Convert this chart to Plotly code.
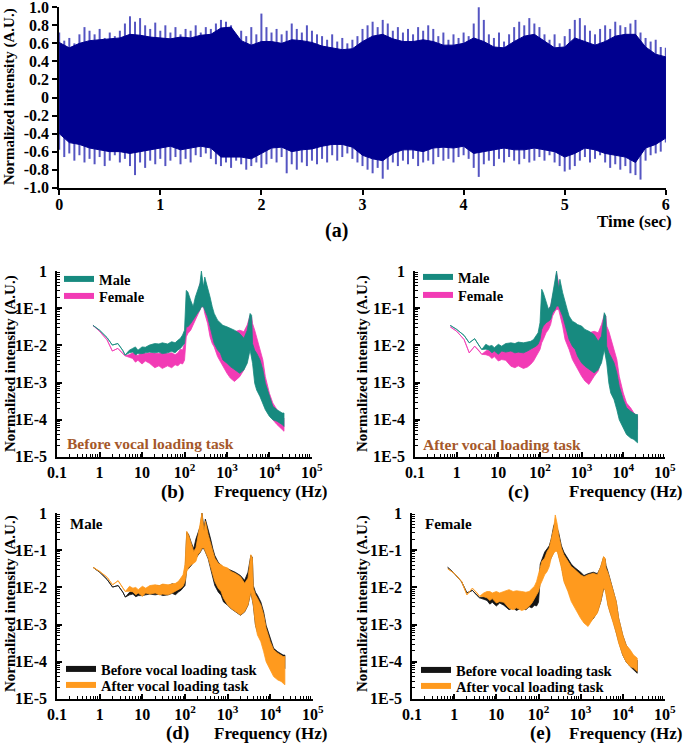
import numpy as np
import plotly.graph_objects as go

W, H = 685, 745
FONT = "Liberation Serif"

# ---------------- (a) time-domain waveform ----------------
t_peak = [round(0.05 * i, 2) for i in range(121)]
peak_hi = [0.72, 0.63, 0.66, 0.60, 0.70, 0.78, 0.74, 0.70, 0.76, 0.66,
           0.72, 0.68, 0.74, 0.82, 0.90, 0.84, 0.88, 0.80, 0.76, 0.83,
           0.74, 0.80, 0.72, 0.78, 0.70, 0.76, 0.74, 0.80, 0.72, 0.78,
           0.76, 0.82, 0.86, 0.84, 0.80, 0.66, 0.74, 0.68, 0.78, 0.70,
           0.93, 0.78, 0.72, 0.76, 0.70, 0.74, 0.82, 0.76, 0.72, 0.80,
           0.74, 0.70, 0.68, 0.64, 0.70, 0.62, 0.66, 0.60, 0.64, 0.68,
           0.76, 0.80, 0.84, 0.78, 0.86, 0.82, 0.74, 0.78, 0.72, 0.76,
           0.70, 0.78, 0.74, 0.80, 0.76, 0.68, 0.72, 0.64, 0.70, 0.66,
           0.72, 0.68, 0.82, 1.00, 0.86, 0.70, 0.66, 0.72, 0.62, 0.70,
           0.78, 0.84, 0.80, 0.88, 0.82, 0.78, 0.70, 0.64, 0.70, 0.60,
           0.68, 0.76, 0.86, 0.88, 0.80, 0.74, 0.70, 0.76, 0.80, 0.76,
           0.84, 0.80, 0.78, 0.82, 0.86, 0.72, 0.66, 0.62, 0.64, 0.56,
           0.55]
peak_lo = [-0.58, -0.66, -0.62, -0.70, -0.64, -0.72, -0.68, -0.74, -0.66, -0.76,
           -0.70, -0.64, -0.72, -0.68, -0.76, -0.86, -0.72, -0.78, -0.70, -0.74,
           -0.68, -0.76, -0.70, -0.66, -0.74, -0.68, -0.72, -0.64, -0.66, -0.62,
           -0.68, -0.74, -0.76, -0.72, -0.78, -0.70, -0.74, -0.80, -0.76, -0.72,
           -0.78, -0.74, -0.68, -0.72, -0.66, -0.84, -0.74, -0.80, -0.72, -0.76,
           -0.70, -0.74, -0.68, -0.72, -0.64, -0.70, -0.66, -0.62, -0.68, -0.72,
           -0.76, -0.80, -0.84, -0.78, -0.90, -0.80, -0.72, -0.76, -0.70, -0.74,
           -0.68, -0.76, -0.72, -0.70, -0.74, -0.66, -0.70, -0.68, -0.72, -0.66,
           -0.64, -0.68, -0.78, -0.88, -0.74, -0.70, -0.76, -0.68, -0.72, -0.66,
           -0.70, -0.74, -0.68, -0.72, -0.70, -0.66, -0.70, -0.64, -0.72, -0.76,
           -0.82, -0.80, -0.76, -0.70, -0.66, -0.72, -0.68, -0.64, -0.72, -0.78,
           -0.74, -0.80, -0.76, -0.84, -0.86, -0.91, -0.70, -0.64, -0.62, -0.60,
           -0.50]
t_body = [round(0.1 * i, 1) for i in range(61)]
body_hi = [0.61, 0.55, 0.60, 0.63, 0.64, 0.65, 0.66, 0.70, 0.69, 0.67,
           0.66, 0.65, 0.67, 0.66, 0.69, 0.70, 0.77, 0.78, 0.63, 0.58,
           0.62, 0.62, 0.60, 0.64, 0.63, 0.61, 0.57, 0.55, 0.53, 0.54,
           0.62, 0.68, 0.70, 0.65, 0.62, 0.62, 0.64, 0.62, 0.58, 0.58,
           0.60, 0.66, 0.62, 0.56, 0.55, 0.62, 0.68, 0.70, 0.62, 0.55,
           0.56, 0.66, 0.62, 0.58, 0.62, 0.68, 0.70, 0.70, 0.56, 0.48,
           0.45]
body_lo = [-0.40, -0.50, -0.52, -0.56, -0.58, -0.60, -0.60, -0.62, -0.60, -0.58,
           -0.56, -0.54, -0.58, -0.56, -0.54, -0.56, -0.66, -0.66, -0.66, -0.68,
           -0.62, -0.56, -0.55, -0.60, -0.58, -0.57, -0.54, -0.52, -0.52, -0.55,
           -0.64, -0.68, -0.70, -0.62, -0.58, -0.58, -0.60, -0.56, -0.55, -0.56,
           -0.54, -0.62, -0.60, -0.58, -0.56, -0.58, -0.58, -0.56, -0.58, -0.60,
           -0.66, -0.62, -0.56, -0.58, -0.62, -0.64, -0.66, -0.72, -0.56, -0.52,
           -0.45]
a_yticks = [1.0, 0.8, 0.6, 0.4, 0.2, 0, -0.2, -0.4, -0.6, -0.8, -1.0]
a_yticklabels = ["1.0", "0.8", "0.6", "0.4", "0.2", "0", "-0.2", "-0.4", "-0.6", "-0.8", "-1.0"]
a_xticks = [0, 1, 2, 3, 4, 5, 6]

# ---------------- (b)-(e) spectra: upper / lower envelopes, log10(intensity) ----------------
freq = [0.7, 1, 1.5, 2, 2.7, 3.5, 4, 5, 6, 7,
        8, 10, 12, 15, 20, 25, 30, 40, 50, 60,
        70, 80, 90, 100, 110, 120, 140, 160, 180, 200,
        230, 250, 280, 300, 350, 400, 450, 500, 600, 700,
        800, 1000, 1200, 1500, 2000, 2500, 3000, 3500, 3800, 4000,
        4500, 5000, 6000, 7000, 8000, 10000, 12000, 15000, 18000, 20000,
        22000]

male_before_hi = [-1.46, -1.59, -1.79, -1.99, -1.95, -2.13, -2.26, -2.13, -2.08, -2.04,
                  -2.13, -2.04, -2.05, -1.99, -1.95, -1.96, -1.93, -1.96, -1.90, -1.93,
                  -1.86, -1.81, -1.72, -1.59, -0.52, -0.56, -0.79, -0.96, -0.70, -0.52,
                  -0.34, 0.0, -0.43, -0.16, -0.43, -0.70, -0.96, -1.14, -1.32, -1.41,
                  -1.46, -1.50, -1.54, -1.59, -1.68, -1.81, -1.59, -1.14, -1.19, -1.95,
                  -2.13, -2.21, -2.39, -2.66, -3.02, -3.38, -3.64, -3.73, -3.78, -3.82,
                  -3.82]
male_before_lo = [-1.46, -1.59, -1.79, -1.99, -1.95, -2.13, -2.26, -2.20, -2.18, -2.25,
                  -2.22, -2.22, -2.20, -2.18, -2.20, -2.18, -2.22, -2.20, -2.16, -2.20,
                  -2.12, -2.08, -2.02, -1.95, -1.50, -1.50, -1.41, -1.32, -1.23, -1.14,
                  -1.05, -0.96, -0.96, -1.05, -1.23, -1.50, -1.77, -1.95, -2.12, -2.21,
                  -2.39, -2.48, -2.57, -2.66, -2.75, -2.66, -2.48, -2.12, -2.30, -2.48,
                  -3.02, -3.20, -3.38, -3.55, -3.73, -3.91, -4.00, -4.04, -4.09, -4.13,
                  -4.18]
female_before_hi = [-1.46, -1.62, -1.85, -2.15, -2.08, -2.20, -2.28, -2.25, -2.20, -2.22,
                    -2.28, -2.15, -2.22, -2.20, -2.20, -2.22, -2.18, -2.22, -2.20, -2.25,
                    -2.20, -2.10, -2.12, -1.95, -1.37, -1.23, -1.05, -0.96, -0.88, -0.70,
                    -0.34, -0.25, -0.43, -0.52, -0.88, -1.05, -1.14, -1.23, -1.37, -1.45,
                    -1.50, -1.59, -1.68, -1.63, -1.59, -1.63, -1.45, -1.19, -1.23, -1.41,
                    -1.59, -1.77, -2.12, -2.39, -2.84, -3.29, -3.55, -3.73, -3.87, -3.91,
                    -3.96]
female_before_lo = [-1.46, -1.62, -1.85, -2.15, -2.08, -2.22, -2.28, -2.32, -2.35, -2.45,
                    -2.40, -2.50, -2.42, -2.48, -2.60, -2.55, -2.62, -2.55, -2.60, -2.52,
                    -2.55, -2.48, -2.50, -2.40, -1.77, -1.68, -1.59, -1.45, -1.32, -1.23,
                    -1.05, -0.96, -0.96, -1.14, -1.41, -1.77, -1.95, -2.04, -2.30, -2.45,
                    -2.57, -2.75, -2.88, -2.97, -2.84, -2.66, -2.39, -2.04, -2.04, -2.12,
                    -2.48, -2.66, -2.93, -3.20, -3.46, -3.82, -4.00, -4.13, -4.22, -4.27,
                    -4.31]
male_after_hi = [-1.46, -1.57, -1.73, -1.93, -1.82, -2.02, -2.11, -1.97, -2.02, -2.00,
                 -2.06, -1.97, -2.02, -1.95, -1.93, -1.95, -1.91, -1.93, -1.91, -1.89,
                 -1.84, -1.75, -1.66, -1.39, -0.49, -0.58, -0.85, -1.03, -0.94, -0.67,
                 -0.31, 0.0, -0.49, -0.22, -0.58, -0.85, -1.03, -1.21, -1.35, -1.39,
                 -1.44, -1.48, -1.57, -1.62, -1.71, -1.89, -1.75, -1.12, -1.21, -2.02,
                 -2.20, -2.29, -2.47, -2.74, -3.10, -3.46, -3.68, -3.77, -3.82, -3.86,
                 -3.86]
male_after_lo = [-1.46, -1.57, -1.73, -1.93, -1.82, -2.02, -2.11, -2.10, -2.12, -2.20,
                 -2.15, -2.24, -2.15, -2.18, -2.15, -2.20, -2.18, -2.20, -2.15, -2.11,
                 -2.06, -2.02, -1.97, -1.84, -1.57, -1.48, -1.39, -1.35, -1.30, -1.12,
                 -1.03, -0.94, -0.94, -1.03, -1.21, -1.48, -1.66, -1.84, -2.02, -2.11,
                 -2.29, -2.47, -2.56, -2.65, -2.74, -2.65, -2.47, -2.11, -2.29, -2.47,
                 -3.01, -3.28, -3.46, -3.73, -4.00, -4.22, -4.40, -4.49, -4.53, -4.58,
                 -4.62]
female_after_hi = [-1.50, -1.62, -1.84, -2.20, -2.02, -2.15, -2.24, -2.15, -2.11, -2.11,
                   -2.15, -2.11, -2.15, -2.11, -2.06, -2.11, -2.09, -2.11, -2.13, -2.11,
                   -2.02, -1.97, -1.84, -1.66, -1.48, -1.30, -1.21, -1.03, -0.94, -0.72,
                   -0.40, -0.05, -0.31, -0.58, -0.94, -1.12, -1.21, -1.30, -1.44, -1.50,
                   -1.57, -1.66, -1.71, -1.66, -1.62, -1.66, -1.44, -1.17, -1.21, -1.48,
                   -1.62, -1.80, -2.11, -2.38, -2.83, -3.28, -3.55, -3.68, -3.82, -3.86,
                   -3.90]
female_after_lo = [-1.50, -1.62, -1.84, -2.20, -2.02, -2.15, -2.24, -2.25, -2.28, -2.35,
                   -2.30, -2.42, -2.38, -2.40, -2.56, -2.60, -2.55, -2.62, -2.58, -2.51,
                   -2.42, -2.29, -2.20, -2.11, -1.93, -1.84, -1.66, -1.57, -1.44, -1.21,
                   -1.08, -1.03, -1.03, -1.21, -1.48, -1.84, -1.97, -2.11, -2.38, -2.51,
                   -2.65, -2.83, -2.96, -3.05, -2.83, -2.69, -2.38, -2.02, -2.06, -2.20,
                   -2.51, -2.69, -2.96, -3.23, -3.50, -3.82, -4.00, -4.13, -4.17, -4.22,
                   -4.26]

f_ticks = [0.1, 1, 10, 100, 1000, 10000, 100000]
f_ticklabels = ["0.1", "1", "10", "10<sup>2</sup>", "10<sup>3</sup>", "10<sup>4</sup>", "10<sup>5</sup>"]
i_ticks = [1e-5, 1e-4, 1e-3, 1e-2, 1e-1, 1]
i_ticklabels = ["1E-5", "1E-4", "1E-3", "1E-2", "1E-1", "1"]

# ---------------- colours ----------------
C_WAVE = "#00008f"
C_WAVE_EDGE = "#5555c2"
C_MALE = "#178a7f"
C_FEMALE = "#f23bb5"
C_BEFORE = "#141414"
C_AFTER = "#ff9a1e"
C_BROWN = "#a5582a"


def px_x(p):
    return p / W


def px_y(p):
    return 1 - p / H


fig = go.Figure()

# (a) waveform: spikes as vertical strokes, dense body on top
sx, sy = [], []
for t, lo, hi in zip(t_peak, peak_lo, peak_hi):
    sx += [t, t, None]
    sy += [lo, hi, None]
fig.add_trace(go.Scatter(x=sx, y=sy, mode="lines", line=dict(color=C_WAVE_EDGE, width=2),
                         showlegend=False, hoverinfo="skip", xaxis="x", yaxis="y"))
fig.add_trace(go.Scatter(x=t_body + t_body[::-1], y=body_hi + body_lo[::-1], mode="lines",
                         fill="toself", fillcolor=C_WAVE, line=dict(color=C_WAVE, width=1),
                         showlegend=False, hoverinfo="skip", xaxis="x", yaxis="y"))


def band(hi, lo, color, xa, ya):
    y_hi = list(np.power(10.0, hi))
    y_lo = list(np.power(10.0, lo))
    return go.Scatter(x=freq + freq[::-1], y=y_hi + y_lo[::-1], mode="lines", fill="toself",
                      fillcolor=color, line=dict(color=color, width=0.8),
                      showlegend=False, hoverinfo="skip", xaxis=xa, yaxis=ya)


def legend_entry(name, color, xa, ya, legend):
    return go.Scatter(x=[None], y=[None], mode="lines", line=dict(color=color, width=6),
                      name=name, xaxis=xa, yaxis=ya, legend=legend, showlegend=True)


# (b) before: female under male
fig.add_trace(band(female_before_hi, female_before_lo, C_FEMALE, "x2", "y2"))
fig.add_trace(band(male_before_hi, male_before_lo, C_MALE, "x2", "y2"))
fig.add_trace(legend_entry("Male", C_MALE, "x2", "y2", "legend"))
fig.add_trace(legend_entry("Female", C_FEMALE, "x2", "y2", "legend2"))
# (c) after
fig.add_trace(band(female_after_hi, female_after_lo, C_FEMALE, "x3", "y3"))
fig.add_trace(band(male_after_hi, male_after_lo, C_MALE, "x3", "y3"))
fig.add_trace(legend_entry("Male", C_MALE, "x3", "y3", "legend3"))
fig.add_trace(legend_entry("Female", C_FEMALE, "x3", "y3", "legend4"))
# (d) male before / after
fig.add_trace(band(male_before_hi, male_before_lo, C_BEFORE, "x4", "y4"))
fig.add_trace(band(male_after_hi, male_after_lo, C_AFTER, "x4", "y4"))
fig.add_trace(legend_entry("Before vocal loading task", C_BEFORE, "x4", "y4", "legend5"))
fig.add_trace(legend_entry("After vocal loading task", C_AFTER, "x4", "y4", "legend6"))
# (e) female before / after
fig.add_trace(band(female_before_hi, female_before_lo, C_BEFORE, "x5", "y5"))
fig.add_trace(band(female_after_hi, female_after_lo, C_AFTER, "x5", "y5"))
fig.add_trace(legend_entry("Before vocal loading task", C_BEFORE, "x5", "y5", "legend7"))
fig.add_trace(legend_entry("After vocal loading task", C_AFTER, "x5", "y5", "legend8"))

tickfont = dict(family=FONT, size=16, color="black", weight="bold")
minor_f = [m * 10.0 ** k for k in range(-1, 5) for m in range(2, 10)]
minor_i = [m * 10.0 ** k for k in range(-5, 0) for m in range(2, 10)]


def lin_axis(**kw):
    d = dict(showline=True, linecolor="black", linewidth=1.6, ticks="outside", ticklen=5,
             tickwidth=1.5, tickcolor="black", tickfont=tickfont, showgrid=False,
             zeroline=False, automargin=False, ticklabeloverflow="allow")
    d.update(kw)
    return d


def log_x(domain, anchor):
    return lin_axis(type="log", range=[-1.002, 5.002], domain=domain, anchor=anchor,
                    ticks="inside", ticklen=5, ticklabelstandoff=0,
                    tickmode="array", tickvals=f_ticks, ticktext=f_ticklabels,
                    minor=dict(tickmode="array", tickvals=minor_f, ticks="inside", ticklen=3,
                               tickwidth=1, tickcolor="black", showgrid=False))


def log_y(domain, anchor):
    return lin_axis(type="log", range=[-5.003, 0.003], domain=domain, anchor=anchor,
                    ticks="inside", ticklen=5, ticklabelstandoff=5,
                    tickmode="array", tickvals=i_ticks, ticktext=i_ticklabels,
                    minor=dict(tickmode="array", tickvals=minor_i, ticks="inside", ticklen=3,
                               tickwidth=1, tickcolor="black", showgrid=False))


dom_a_x = [px_x(59), px_x(666)]
dom_a_y = [px_y(188), px_y(7)]
dom_b_x = [px_x(57), px_x(312)]
dom_c_x = [px_x(415), px_x(665)]
dom_top_y = [px_y(457), px_y(271)]
dom_d_x = [px_x(57), px_x(313)]
dom_e_x = [px_x(412), px_x(665)]
dom_bot_y = [px_y(699), px_y(513)]

legend_font = dict(family=FONT, size=14.5, color="black", weight="bold")


def legend_at(line_x, center_y):
    return dict(x=px_x(line_x - 4), y=px_y(center_y - 16), xanchor="left", yanchor="top",
                xref="paper", yref="paper", bgcolor="rgba(0,0,0,0)", borderwidth=0,
                font=legend_font, itemwidth=30)


fig.update_layout(
    width=W, height=H, margin=dict(l=0, r=0, t=0, b=0),
    paper_bgcolor="white", plot_bgcolor="white",
    xaxis=lin_axis(range=[-0.002, 6.002], domain=dom_a_x, anchor="y", ticklabelstandoff=-4,
                   tickmode="array", tickvals=a_xticks),
    yaxis=lin_axis(range=[-1.003, 1.003], domain=dom_a_y, anchor="x",
                   tickmode="array", tickvals=a_yticks, ticktext=a_yticklabels),
    xaxis2=log_x(dom_b_x, "y2"), yaxis2=log_y(dom_top_y, "x2"),
    xaxis3=log_x(dom_c_x, "y3"), yaxis3=log_y(dom_top_y, "x3"),
    xaxis4=log_x(dom_d_x, "y4"), yaxis4=log_y(dom_bot_y, "x4"),
    xaxis5=log_x(dom_e_x, "y5"), yaxis5=log_y(dom_bot_y, "x5"),
    legend=legend_at(63, 279),
    legend2=legend_at(63, 296),
    legend3=legend_at(422, 277),
    legend4=legend_at(422, 295),
    legend5=legend_at(65, 669),
    legend6=legend_at(65, 685),
    legend7=legend_at(420, 670),
    legend8=legend_at(420, 686),
)


def note(text, x, y, size, color="black", xanchor="center", angle=0):
    fig.add_annotation(text=text, x=px_x(x), y=px_y(y), xref="paper", yref="paper",
                       xanchor=xanchor, yanchor="middle", showarrow=False, textangle=angle,
                       font=dict(family=FONT, size=size, color=color, weight="bold"))


ytitle = "Normalized intensity (A.U.)"
note(ytitle, 10, 97, 15, angle=-90)
note(ytitle, 10, 364, 15, angle=-90)
note(ytitle, 362, 364, 15, angle=-90)
note(ytitle, 10, 604, 15, angle=-90)
note(ytitle, 362, 604, 15, angle=-90)

note("Time (sec)", 674, 222, 17, xanchor="right")
note("(a)", 336, 231, 20)
note("(b)", 172, 492, 19)
note("(c)", 518, 492, 19)
note("(d)", 177, 733, 19)
note("(e)", 540, 733, 19)
for xr, yy in [(329, 491), (684, 491), (329, 733), (684, 733)]:
    note("Frequency (Hz)", xr, yy, 17, xanchor="right")

note("Before vocal loading task", 65, 443, 15.5, color=C_BROWN, xanchor="left")
note("After vocal loading task", 421, 444, 15.5, color=C_BROWN, xanchor="left")
note("Male", 68, 524, 15, xanchor="left")
note("Female", 423, 524, 15, xanchor="left")

# the page's default 8 px body margin would push the 685x745 figure out of the window
fig.write_html("out.html", config={"displayModeBar": False},
               post_script="document.body.style.margin='0px';")
